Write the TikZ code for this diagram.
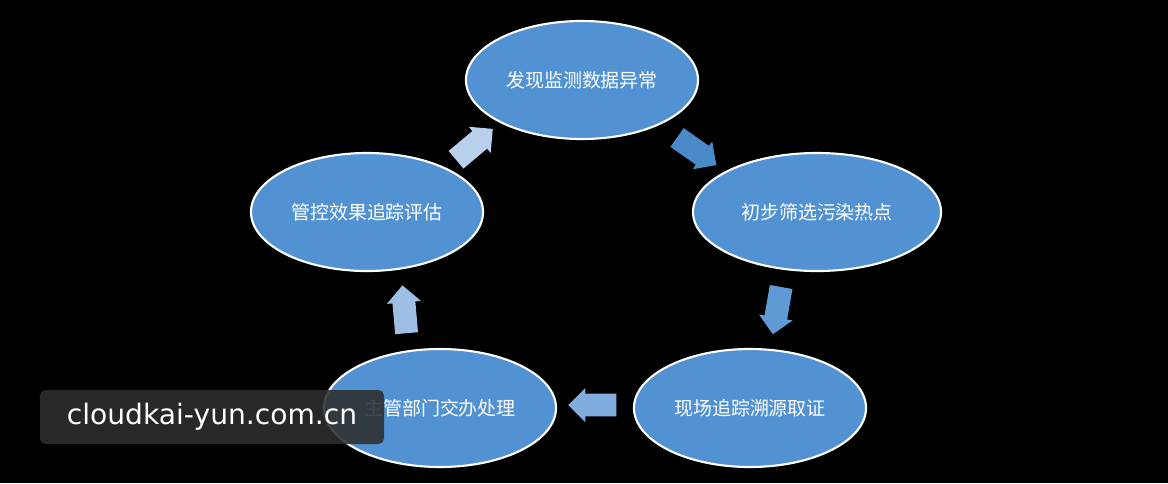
\documentclass[tikz,border=0pt]{standalone}
\usepackage{fontspec}
\setmainfont{Noto Sans CJK SC}
\newfontfamily\markfont{DejaVu Sans}
\usetikzlibrary{shapes.arrows,shapes.geometric,positioning}

\definecolor{stepblue}{RGB}{83,146,210}
\definecolor{arrowA}{RGB}{74,138,200}
\definecolor{arrowB}{RGB}{96,154,212}
\definecolor{arrowC}{RGB}{128,172,222}
\definecolor{arrowD}{RGB}{158,190,228}
\definecolor{arrowE}{RGB}{184,208,236}

\begin{document}
\begin{tikzpicture}[x=0.025cm,y=-0.025cm]
\tikzset{
  stepnode/.style={ellipse,draw=white,line width=1.5pt,fill=stepblue,text=white,
    minimum width=5.8cm,minimum height=2.95cm,font=\fontsize{13.5}{16}\selectfont},
  flow/.style={single arrow,minimum height=1.2cm,inner sep=0.28cm,
    single arrow head extend=0.14cm}
}
\fill[black] (0,0) rectangle (1168,483);
\useasboundingbox (0,0) rectangle (1168,483);

\node[stepnode] (S1) at (582,80) {发现监测数据异常};
\node[stepnode,minimum width=6.2cm] (S2) at (817,212) {初步筛选污染热点};
\node[stepnode] (S3) at (750,408) {现场追踪溯源取证};
\node[stepnode] (S4) at (440,408) {主管部门交办处理};
\node[stepnode] (S5) at (367,212) {管控效果追踪评估};

\node[flow,fill=arrowA,rotate=-35] (A1) at (692,148) {};
\node[flow,fill=arrowB,rotate=-100] (A2) at (778,305) {};
\node[flow,fill=arrowC,rotate=180] (A3) at (598,405) {};
\node[flow,fill=arrowD,rotate=95] (A4) at (405,315) {};
\node[flow,fill=arrowE,rotate=40] (A5) at (470,148) {};

\node[fill=black!82!white,fill opacity=0.88,text opacity=1,rounded corners=4pt,
  text=white,font=\markfont\fontsize{20}{24}\selectfont,minimum width=8.6cm,
  minimum height=1.35cm] (mark) at (212,417) {cloudkai-yun.com.cn};
\end{tikzpicture}
\end{document}
